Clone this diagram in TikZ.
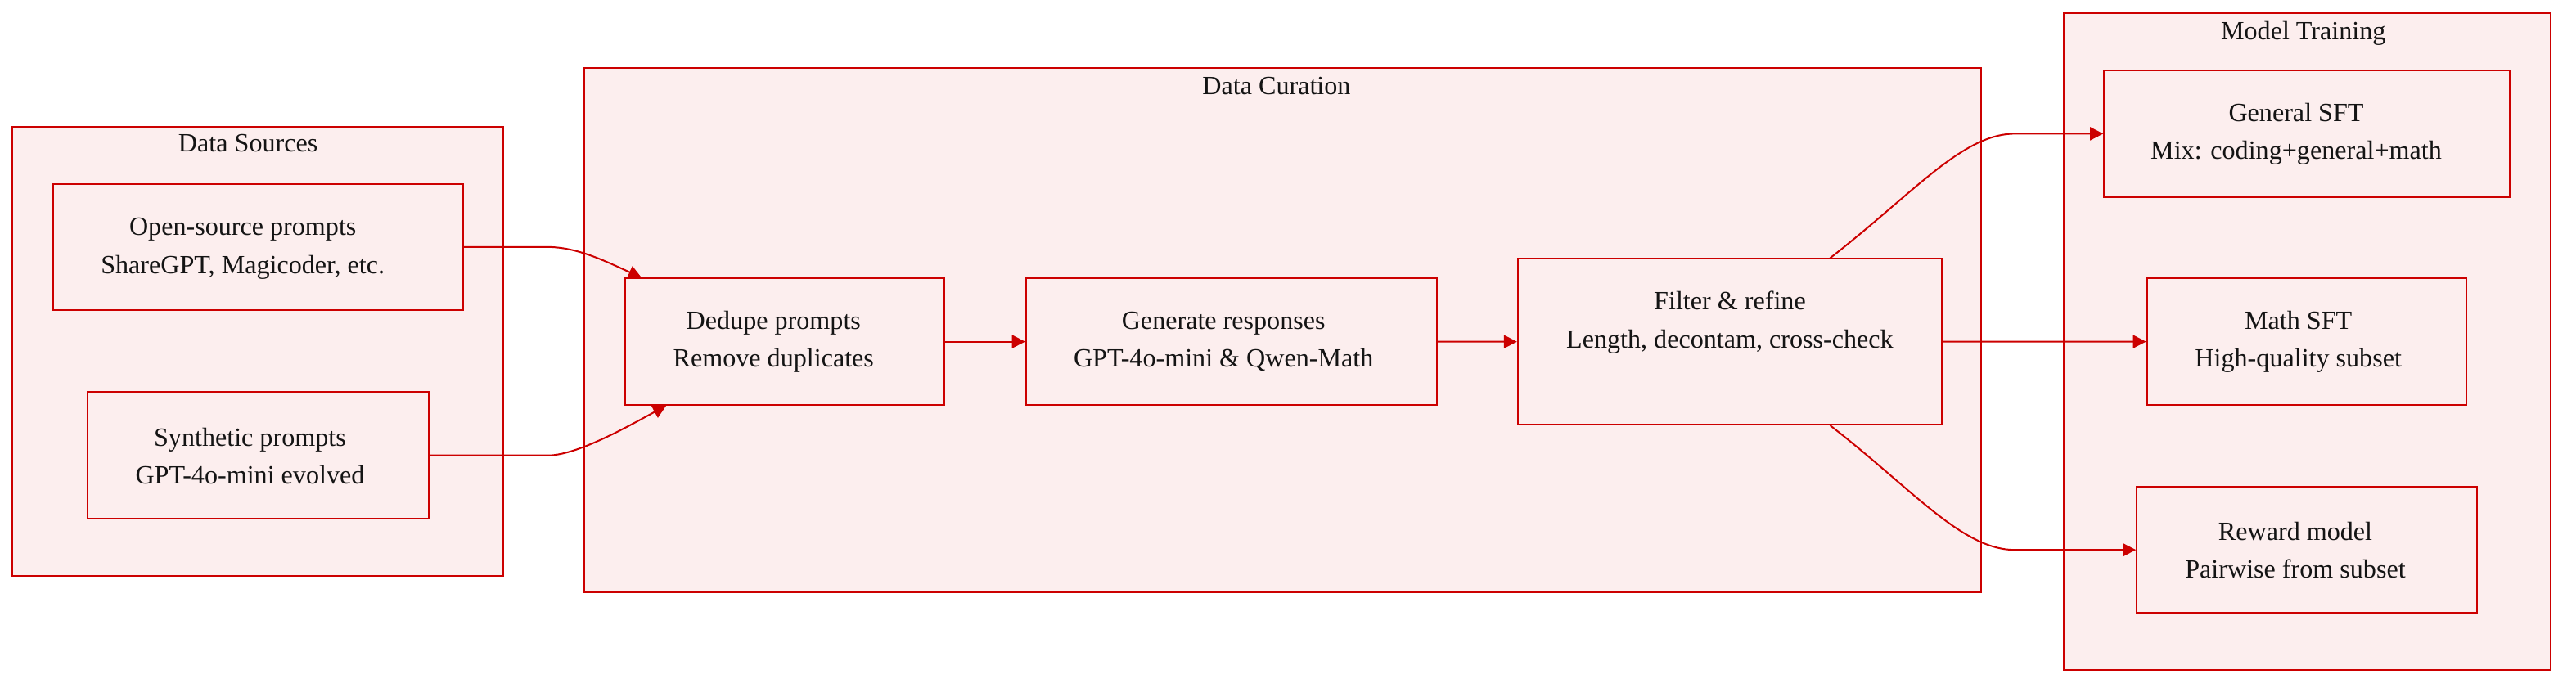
\documentclass[tikz,border=0pt]{standalone}
\usepackage{fontspec}
\setmainfont{Liberation Serif}
\usetikzlibrary{arrows.meta,calc}
\definecolor{edgered}{RGB}{204,0,0}
\definecolor{boxfill}{RGB}{252,238,238}
\definecolor{txt}{RGB}{20,20,20}
\begin{document}
\begin{tikzpicture}[x=1pt,y=-1pt,
  cluster/.style={draw=edgered, fill=boxfill, line width=1pt, inner sep=0pt},
  proc/.style={draw=edgered, fill=boxfill, line width=1pt, inner sep=0pt, minimum height=77pt},
  proctext/.style={align=center, text=txt, font=\fontsize{16}{23}\selectfont, inner sep=0pt},
  title/.style={text=txt, font=\fontsize{16}{19}\selectfont, anchor=base, inner sep=0pt},
  flow/.style={draw=edgered, line width=1pt, -{Triangle[length=8pt,width=8pt]}}]
\useasboundingbox (0,0) rectangle (1568,418.4);

% clusters
\node[cluster, minimum width=298.7pt, minimum height=273.5pt] (ds) at (157.05,213.85) {};
\node[cluster, minimum width=850.2pt, minimum height=319.1pt] (dc) at (780.9,201.05) {};
\node[cluster, minimum width=296.5pt, minimum height=400.2pt] (mt) at (1404.25,207.9) {};
\node[title] (dstitle) at (151,92.6) {Data Sources};
\node[title] (dctitle) at (777,57.3) {Data Curation};
\node[title] (mttitle) at (1402,24.1) {Model Training};

% process boxes
\node[proc, minimum width=249.2pt] (open) at (157.1,150.35) {};
\node[proc, minimum width=207.7pt] (synth) at (157.15,277.3) {};
\node[proc, minimum width=194.1pt] (dedupe) at (477.75,208) {};
\node[proc, minimum width=249.9pt] (gen) at (749.45,208) {};
\node[proc, minimum width=258.1pt, minimum height=100.9pt] (filter) at (1052.95,208.05) {};
\node[proc, minimum width=246.9pt] (general) at (1404.15,81.4) {};
\node[proc, minimum width=194.6pt] (math) at (1404.1,208) {};
\node[proc, minimum width=207.1pt] (reward) at (1404.15,334.8) {};

% box texts
\node[proctext] (opentext) at ($(open)+(-9.3,1)$) {Open-source prompts\\ShareGPT, Magicoder, etc.};
\node[proctext] (synthtext) at ($(synth)+(-5,0.5)$) {Synthetic prompts\\GPT-4o-mini evolved};
\node[proctext] (dedupetext) at ($(dedupe)+(-6.9,0)$) {Dedupe prompts\\Remove duplicates};
\node[proctext] (gentext) at ($(gen)+(-4.7,0)$) {Generate responses\\GPT-4o-mini \& Qwen-Math};
\node[proctext] (filtertext) at ($(filter)+(0,-11.7)$) {Filter \& refine\\Length, decontam, cross-check};
\node[proctext] (generaltext) at ($(general)+(-6.5,0)$) {General SFT\\Mix: coding+general+math};
\node[proctext] (mathtext) at ($(math)+(-5.1,0)$) {Math SFT\\High-quality subset};
\node[proctext] (rewardtext) at ($(reward)+(-7,0)$) {Reward model\\Pairwise from subset};

% helper coordinates
\coordinate (dtop) at ($(dedupe.north west)+(10.3,0)$);
\coordinate (dbot) at ($(dedupe.south west)+(25.3,0)$);
\coordinate (ftop) at ($(filter.north)+(61,0)$);
\coordinate (fbot) at ($(filter.south)+(61,0)$);
\coordinate (gbend) at ($(general.west)+(-53.7,0)$);
\coordinate (rbend) at ($(reward.west)+(-73.6,0)$);

% connectors
\draw[flow] (open.east) -- ++(51,0) .. controls +(18,0) and +(-22,-10) .. (dtop);
\draw[flow] (synth.east) -- ++(72,0) .. controls +(18,0) and +(-22,11.9) .. (dbot);
\draw[flow] (dedupe.east) -- (gen.west);
\draw[flow] (gen.east) -- (filter.west);
\draw[flow] (ftop) .. controls +(51,-39.6) and +(-32,0) .. (gbend) -- (general.west);
\draw[flow] (filter.east) -- (math.west);
\draw[flow] (fbot) .. controls +(51,39.6) and +(-32,0) .. (rbend) -- (reward.west);
\end{tikzpicture}
\end{document}
